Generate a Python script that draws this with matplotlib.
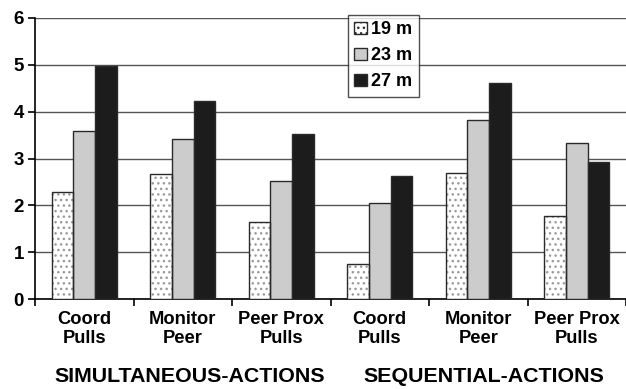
import matplotlib.pyplot as plt
import numpy as np
from matplotlib.patches import Patch

plt.rcParams['font.family'] = ['Liberation Sans', 'DejaVu Sans']
plt.rcParams['font.weight'] = 'bold'

categories = ['Coord\nPulls', 'Monitor\nPeer', 'Peer Prox\nPulls',
              'Coord\nPulls', 'Monitor\nPeer', 'Peer Prox\nPulls']
groups = ['SIMULTANEOUS-ACTIONS', 'SEQUENTIAL-ACTIONS']
series = ['19 m', '23 m', '27 m']
v19 = [2.28, 2.67, 1.65, 0.75, 2.70, 1.78]
v23 = [3.59, 3.41, 2.51, 2.06, 3.82, 3.34]
v27 = [4.98, 4.23, 3.52, 2.63, 4.61, 2.93]

fig = plt.figure(figsize=(6.26, 3.89), dpi=100)
ax = fig.add_axes([35/626, 1-299/389, 1-35/626, (299-18)/389])

x = np.arange(len(categories))
w = 0.22
edge = '#2a2a2a'

# dotted bars: hatch drawn first, outline on top
ax.bar(x - w, v19, w, color='white', edgecolor='#9a9a9a', hatch='...', linewidth=0, zorder=3)
ax.bar(x - w, v19, w, fill=False, edgecolor=edge, linewidth=1.0, zorder=4)
ax.bar(x, v23, w, color='#cccccc', edgecolor=edge, linewidth=1.0, zorder=3)
ax.bar(x + w, v27, w, color='#1c1c1c', edgecolor=edge, linewidth=1.0, zorder=3)

ax.set_xlim(-0.5, (626-35)/99 - 0.5)
ax.set_ylim(0, 6)
ax.set_yticks(range(7))
ax.tick_params(axis='y', labelsize=13.5, length=5, width=1.2, pad=3)
ax.yaxis.grid(True, color='#555555', linewidth=1.0, zorder=0)
ax.set_axisbelow(True)

ax.set_xticks(np.arange(len(categories) + 1) - 0.5)
ax.set_xticklabels([])
ax.set_xticks(x, categories, minor=True)
ax.tick_params(axis='x', which='major', length=5, width=1.2)
ax.tick_params(axis='x', which='minor', length=0, labelsize=13.2, pad=9)
for lab in ax.get_xticklabels(minor=True):
    lab.set_linespacing(1.15)

for s in ['top', 'right']:
    ax.spines[s].set_visible(False)
ax.spines['left'].set_linewidth(1.2)
ax.spines['bottom'].set_linewidth(1.2)

for xc, g in zip([1.075, 4.06], groups):
    ax.text(xc, -(377-299)/281, g, ha='center', va='center', fontsize=15.4,
            transform=ax.get_xaxis_transform(), fontweight='bold')

handles = [Patch(facecolor='white', edgecolor=edge, hatch='...'),
           Patch(facecolor='#cccccc', edgecolor=edge),
           Patch(facecolor='#1c1c1c', edgecolor=edge)]
leg = ax.legend(handles, series, loc='upper left', bbox_to_anchor=((348-35)/591, 1.011),
                fontsize=13, frameon=True, fancybox=False, edgecolor='#222222',
                handlelength=0.7, handleheight=0.7, handletextpad=0.25,
                labelspacing=0.5, borderpad=0.35, borderaxespad=0)
leg.get_frame().set_linewidth(1.0)

fig.savefig('out.png', dpi=100)
